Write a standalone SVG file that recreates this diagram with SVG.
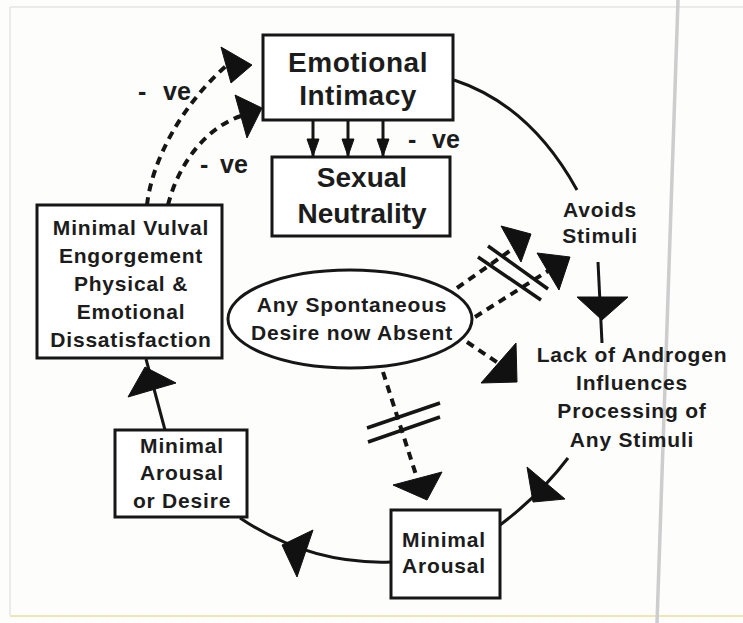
<svg xmlns="http://www.w3.org/2000/svg" width="743" height="623" viewBox="0 0 743 623">
<style>
.bg{fill:#fdfdfc}
.box{fill:#fff;stroke:#161616;stroke-width:3}
.t{font-family:"Liberation Sans",Arial,sans-serif;font-weight:bold;fill:#1c1c1c;text-anchor:middle}
.big{font-size:28px;letter-spacing:0.5px}
.mid{font-size:21px;letter-spacing:0.8px}
.lab{font-size:25px;font-family:"Liberation Sans",Arial,sans-serif;font-weight:bold;fill:#1c1c1c}
.ln{fill:none;stroke:#151515;stroke-width:3}
.dash{fill:none;stroke:#151515;stroke-width:4;stroke-dasharray:8 6}
.head{fill:#111;stroke:#111;stroke-width:1;stroke-linejoin:round}
.slash{stroke:#151515;stroke-width:3.5}
.frame{stroke:#d9d9d9;stroke-width:1;fill:none}
</style>
<rect class="bg" x="0" y="0" width="743" height="623"/>
<g id="scan-artifacts">
<path class="frame" d="M10,615 L10,7 L743,7"/>
<line x1="10" y1="616" x2="743" y2="616" stroke="#efe6b8" stroke-width="2"/>
<line x1="678" y1="0" x2="657" y2="623" stroke="#cdcdcd" stroke-width="3.5"/>
</g>
<g id="connectors">
<line class="ln" x1="313" y1="120" x2="313" y2="156"/>
<line class="ln" x1="348" y1="120" x2="348" y2="156"/>
<line class="ln" x1="383" y1="120" x2="383" y2="156"/>
<polygon class="head" points="307,139 319,139 313,156"/>
<polygon class="head" points="342,139 354,139 348,156"/>
<polygon class="head" points="377,139 389,139 383,156"/>
<path class="ln" d="M454,80 Q530,105 577,190"/>
<path class="ln" d="M598,262 Q600,300 602,343"/>
<polygon class="head" points="577,297 628,297 602,320"/>
<path class="ln" d="M568,458 Q540,495 500,525"/>
<polygon class="head" points="527,467 565,499 533,502"/>
<path class="ln" d="M391,562 Q310,565 240,518"/>
<polygon class="head" points="313,530 297,577 282,545"/>
<line class="ln" x1="165" y1="430" x2="146" y2="359"/>
<polygon class="head" points="128,397 176,383 145,367"/>
<path class="dash" d="M147,205 C152,160 182,105 226,66"/>
<polygon class="head" points="221,47 252,65 231,83"/>
<path class="dash" d="M168,205 C178,165 205,128 241,116"/>
<polygon class="head" points="235,95 262,108 247,138"/>
<path class="dash" d="M457,288 L511,250"/>
<polygon class="head" points="501,226 531,234 521,262"/>
<path class="dash" d="M475,317 L548,271"/>
<polygon class="head" points="537,253 570,257 559,290"/>
<line class="slash" x1="488" y1="246" x2="548" y2="289"/>
<line class="slash" x1="478" y1="257" x2="541" y2="300"/>
<path class="dash" d="M467,342 L498,363"/>
<polygon class="head" points="516,343 517,382 481,383"/>
<path class="dash" d="M383,372 L417,478"/>
<polygon class="head" points="393,485 442,472 427,500"/>
<line class="slash" x1="367" y1="428" x2="440" y2="403"/>
<line class="slash" x1="368" y1="442" x2="440" y2="417"/>
<text class="lab" x="138" y="100">-<tspan x="163">ve</tspan></text>
<text class="lab" x="200" y="173">-<tspan x="220">ve</tspan></text>
<text class="lab" x="408" y="148">-<tspan x="432">ve</tspan></text>
</g>
<g id="emotional-intimacy">
<rect class="box" x="263" y="35" width="190" height="85"/>
<text class="t big" x="358" y="72">Emotional</text>
<text class="t big" x="358" y="105">Intimacy</text>
</g>
<g id="sexual-neutrality">
<rect class="box" x="272" y="157" width="178" height="79"/>
<text class="t" style="font-size:28px" x="362" y="187">Sexual</text>
<text class="t" style="font-size:28px" x="362" y="223">Neutrality</text>
</g>
<g id="avoids-stimuli">
<text class="t mid" x="600" y="217">Avoids</text>
<text class="t mid" x="600" y="243">Stimuli</text>
</g>
<g id="lack-of-androgen">
<text class="t mid" x="632" y="362">Lack of Androgen</text>
<text class="t mid" x="632" y="390">Influences</text>
<text class="t mid" x="632" y="418">Processing of</text>
<text class="t mid" x="632" y="447">Any Stimuli</text>
</g>
<g id="spontaneous-desire">
<ellipse fill="#fff" stroke="#161616" stroke-width="3" cx="350" cy="319" rx="122" ry="49"/>
<text class="t mid" x="352" y="312">Any Spontaneous</text>
<text class="t mid" x="352" y="340">Desire now Absent</text>
</g>
<g id="minimal-arousal">
<rect class="box" x="391" y="510" width="109" height="88"/>
<text class="t mid" x="444" y="547">Minimal</text>
<text class="t mid" x="444" y="573">Arousal</text>
</g>
<g id="minimal-arousal-or-desire">
<rect class="box" x="115" y="430" width="132" height="87"/>
<text class="t mid" x="182" y="453">Minimal</text>
<text class="t mid" x="182" y="480">Arousal</text>
<text class="t mid" x="182" y="508">or Desire</text>
</g>
<g id="minimal-vulval">
<rect class="box" x="37" y="205" width="185" height="153"/>
<text class="t mid" x="131" y="235">Minimal Vulval</text>
<text class="t mid" x="131" y="263">Engorgement</text>
<text class="t mid" x="131" y="291">Physical &amp;</text>
<text class="t mid" x="131" y="319">Emotional</text>
<text class="t mid" x="131" y="347">Dissatisfaction</text>
</g>
</svg>
